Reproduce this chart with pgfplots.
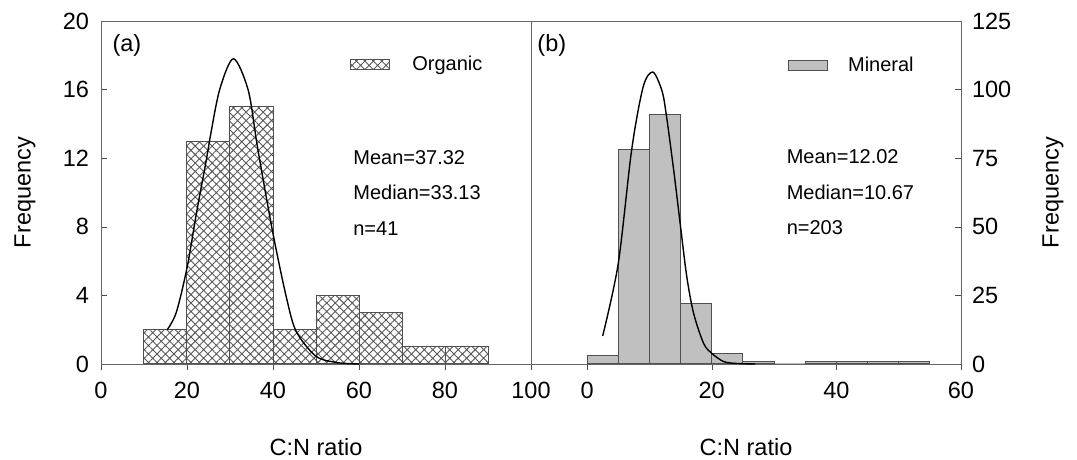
\documentclass[border=0pt]{standalone}
\usepackage{fontspec}
\setmainfont{Liberation Sans}
\usepackage{pgfplots}
\pgfplotsset{compat=1.18}
\usetikzlibrary{patterns.meta}
\newcommand\tfs{\fontsize{11.75}{14}\selectfont}
\newcommand\afs{\fontsize{10}{12}\selectfont}
\definecolor{BarGray}{RGB}{192,192,192}
\definecolor{EdgeGray}{RGB}{80,80,80}
\pgfplotsset{
  panel/.style={
    scale only axis,
    width=215pt, height=171.5pt,
    axis line style={black!60},
    tick style={black!70, major tick length=3pt},
    tick align=inside,
    x tick style={yshift=-3pt},
    xtick pos=bottom,
    tick label style={font=\tfs},
    label style={font=\tfs},
    /pgf/number format/assume math mode=true,
    xticklabel style={yshift=-5.6pt},
    xlabel={C:N ratio},
    ylabel={Frequency},
    xlabel style={at={(axis description cs:0.5,-0.242)},anchor=center},
    legend style={draw=none,fill=none,font=\afs,inner sep=0pt,
      /tikz/every even column/.append style={column sep=0pt}},
    clip=false,
  },
  hist legend/.style={legend image code/.code={\draw[##1] (0pt,-2.5pt) rectangle (19.5pt,2.5pt);}},
}
\begin{document}
\begin{tikzpicture}
\useasboundingbox (0,0) rectangle (538.5pt,230pt);

% (a) organic
\begin{axis}[panel,
  at={(50.5pt,48pt)}, anchor=south west,
  xmin=0, xmax=100, ymin=0, ymax=20,
  xtick={0,20,...,100}, ytick={0,4,...,20},
  ytick pos=left,
  yticklabel style={xshift=-2.5pt},
  ylabel style={at={(axis description cs:-0.177,0.5)},anchor=center},
  legend style={at={(0.579,0.872)},anchor=west},
]
\addplot[ybar interval, draw=EdgeGray, line width=0.5pt,
  pattern={Hatch[angle=45,distance=3pt,line width=0.45pt]}, pattern color=black!65,
  hist legend]
  coordinates {(10,2) (20,13) (30,15) (40,2) (50,4) (60,3) (70,1) (80,1) (90,1)};
\addlegendentry{\hspace*{9pt}Organic}
\addplot[black, line width=0.7pt, smooth, forget plot]
  coordinates {(15.4,2.0) (17.5,3.0) (20,5.6) (22.2,8.8) (24.5,11.9) (25.3,13.1)
    (27.6,16.0) (30.8,17.8) (34.2,16.0) (36.1,13.1) (36.9,11.9) (40,7.6)
    (43.1,3.9) (45.4,1.9) (50,0.45) (55,0.08) (60,0.0)};
\node[anchor=west, inner sep=0pt, font=\tfs] at (rel axis cs:0.026,0.930) {(a)};
\node[anchor=west, inner sep=0pt, font=\afs] at (rel axis cs:0.586,0.603) {Mean=37.32};
\node[anchor=west, inner sep=0pt, font=\afs] at (rel axis cs:0.586,0.499) {Median=33.13};
\node[anchor=west, inner sep=0pt, font=\afs] at (rel axis cs:0.586,0.394) {n=41};
\end{axis}

% (b) mineral
\begin{axis}[panel,
  at={(265.5pt,48pt)}, anchor=south west,
  xmin=-9, xmax=60, ymin=0, ymax=125,
  xtick={0,20,40,60}, ytick={0,25,...,125},
  ytick pos=right, yticklabel pos=right,
  yticklabel style={xshift=2pt},
  ylabel style={at={(axis description cs:1.214,0.5)},anchor=center},
  legend style={at={(0.597,0.869)},anchor=west},
]
\addplot[ybar interval, draw=EdgeGray, line width=0.5pt, fill=BarGray, hist legend]
  coordinates {(0,3) (5,78) (10,91) (15,22) (20,4) (25,1) (30,0) (35,1)
    (40,1) (45,1) (50,1) (55,1)};
\addlegendentry{\hspace*{8pt}Mineral}
\addplot[black, line width=0.7pt, smooth, forget plot]
  coordinates {(2.5,10.2) (5.0,36.6) (7.15,78) (9.0,101) (10.55,106.4)
    (12.0,99.7) (12.7,91) (13.9,70.6) (15.0,50) (16.0,31.8) (17.1,18.4)
    (18.7,7.5) (20,3.9) (21.9,0.9) (24,0.2) (27,0.0)};
\node[anchor=west, inner sep=0pt, font=\tfs] at (rel axis cs:0.014,0.930) {(b)};
\node[anchor=west, inner sep=0pt, font=\afs] at (rel axis cs:0.594,0.606) {Mean=12.02};
\node[anchor=west, inner sep=0pt, font=\afs] at (rel axis cs:0.594,0.501) {Median=10.67};
\node[anchor=west, inner sep=0pt, font=\afs] at (rel axis cs:0.594,0.397) {n=203};
\end{axis}
\end{tikzpicture}
\end{document}
